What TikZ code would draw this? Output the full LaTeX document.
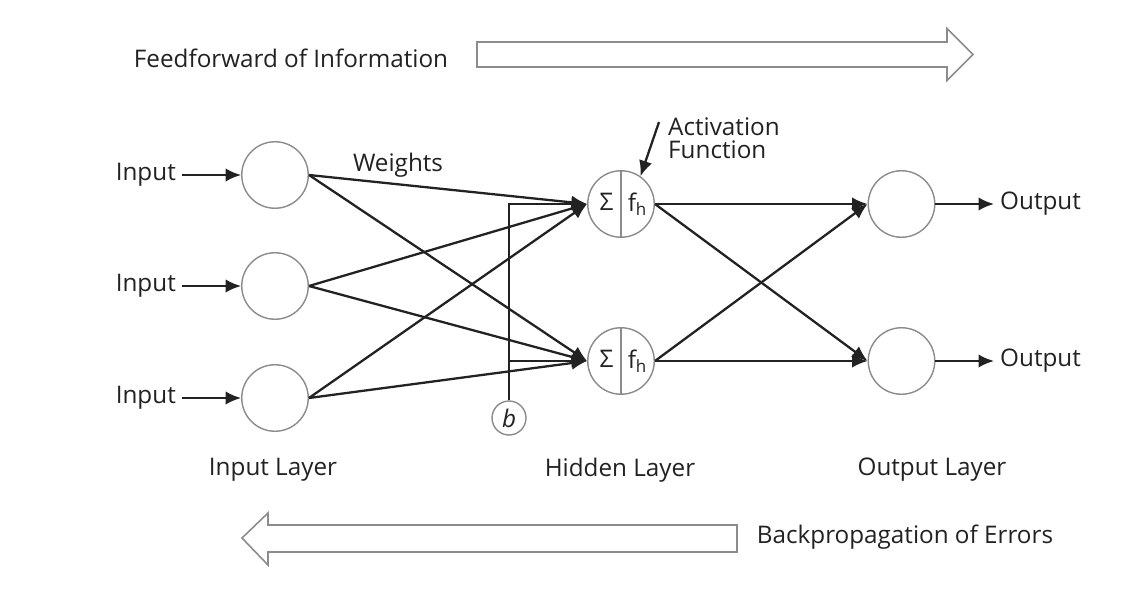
\documentclass[tikz,border=0pt]{standalone}
\usepackage{fontspec}
\setmainfont{Open Sans}
\usetikzlibrary{arrows.meta}

\begin{document}
\begin{tikzpicture}[every node/.style={align=center,text=ink,font=\fontsize{13.8}{14}\selectfont},
    neuron/.style={circle,draw=rim,line width=.8pt,minimum size=1.33cm,inner sep=0pt},
    link/.style={draw=ink,line width=1.3pt,-{Latex[length=3.1mm,width=2.7mm]}},
    hollow/.style={draw=rim,line width=.9pt,line join=miter}]
  \definecolor{ink}{HTML}{222222}
  \definecolor{rim}{HTML}{8C8C8C}
  \definecolor{paper}{HTML}{FFFFFF}
  \fill[paper] (0,0) rectangle (22.76,11.8);
  % Direction arrows, top and bottom.
  \node (ff) at (5.82,10.64) {Feedforward of Information};
  \draw[hollow] (9.54,10.96) -- (18.94,10.96) -- (18.94,11.23) -- (19.46,10.71)
    -- (18.94,10.19) -- (18.94,10.46) -- (9.54,10.46) -- cycle;
  \node (bp) at (18.1,1.06) {Backpropagation of Errors};
  \draw[hollow] (14.74,1.30) -- (5.36,1.30) -- (5.36,1.54) -- (4.84,1.04)
    -- (5.36,0.50) -- (5.36,0.76) -- (14.74,0.76) -- cycle;
  % Input layer.
  \node[neuron] (i1) at (5.5,8.3) {};
  \node[neuron] (i2) at (5.5,6.08) {};
  \node[neuron] (i3) at (5.5,3.84) {};
  \node[anchor=east] (x1) at (3.64,8.3) {Input};
  \node[anchor=east] (x2) at (3.64,6.08) {Input};
  \node[anchor=east] (x3) at (3.64,3.84) {Input};
  \draw[link] (x1) -- (i1);
  \draw[link] (x2) -- (i2);
  \draw[link] (x3) -- (i3);
  % Hidden layer: sum on the left, activation on the right.
  \node[neuron] (h1) at (12.42,7.72) {};
  \node[neuron] (h2) at (12.42,4.58) {};
  \draw[rim,line width=.8pt] (h1.north) -- (h1.south);
  \draw[rim,line width=.8pt] (h2.north) -- (h2.south);
  \node (s1) at ([xshift=-.29cm,yshift=.04cm]h1.center) {Σ};
  \node (s2) at ([xshift=-.29cm,yshift=.04cm]h2.center) {Σ};
  \node (f1) at ([xshift=.33cm]h1.center) {f\textsubscript{h}};
  \node (f2) at ([xshift=.33cm]h2.center) {f\textsubscript{h}};
  % Output layer.
  \node[neuron] (o1) at (18.03,7.72) {};
  \node[neuron] (o2) at (18.03,4.58) {};
  \node[anchor=west] (y1) at (19.88,7.72) {Output};
  \node[anchor=west] (y2) at (19.88,4.58) {Output};
  \draw[link] (o1) -- (y1);
  \draw[link] (o2) -- (y2);
  % Weights, input to hidden.
  \draw[link] (i1.east) -- (h1.west);
  \draw[link] (i1.east) -- (h2.west);
  \draw[link] (i2.east) -- (h1.west);
  \draw[link] (i2.east) -- (h2.west);
  \draw[link] (i3.east) -- (h1.west);
  \draw[link] (i3.east) -- (h2.west);
  % Hidden to output.
  \draw[link] (h1.east) -- (o1.west);
  \draw[link] (h1.east) -- (o2.west);
  \draw[link] (h2.east) -- (o1.west);
  \draw[link] (h2.east) -- (o2.west);
  % Bias feeds both hidden units.
  \node[neuron,minimum size=.68cm] (b) at (10.18,3.44) {\itshape b};
  \draw[link] (b) |- (h1.west);
  \draw[link] (b.north |- h2.west) -- (h2.west);
  \node (w) at (7.96,8.5) {Weights};
  \node[anchor=west,align=left,font=\fontsize{13.8}{13}\selectfont] (act) at (13.24,9.03) {Activation\\Function};
  \coordinate (actfrom) at (13.18,9.36);
  \draw[link] (actfrom) -- (h1.55);
  % Layer names.
  \node (li) at (5.46,2.4) {Input Layer};
  \node (lh) at (12.4,2.4) {Hidden Layer};
  \node (lo) at (18.64,2.4) {Output Layer};
\end{tikzpicture}
\end{document}
